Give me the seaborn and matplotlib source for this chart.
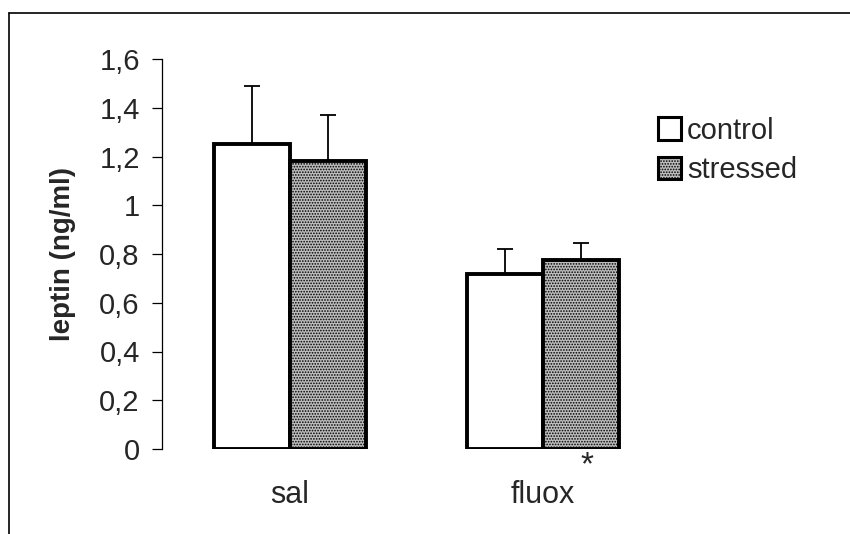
import matplotlib
matplotlib.use("Agg")
import matplotlib.pyplot as plt
from matplotlib.lines import Line2D
import seaborn as sns
import pandas as pd

# ---- data ----
groups = ["sal", "fluox"]
conditions = ["control", "stressed"]
control_vals = [1.25, 0.72]
stressed_vals = [1.18, 0.775]
control_err = [0.24, 0.10]
stressed_err = [0.19, 0.07]
ytick_vals = [0, 0.2, 0.4, 0.6, 0.8, 1.0, 1.2, 1.4, 1.6]
ytick_labels = ["0", "0,2", "0,4", "0,6", "0,8", "1", "1,2", "1,4", "1,6"]
xtick_labels = ["sal", "fluox"]
significance_group = "fluox"
ylabel = "leptin (ng/ml)"

sns.set_style("white")
plt.rcParams["font.family"] = ["Liberation Sans", "DejaVu Sans"]
plt.rcParams["hatch.color"] = "#5e5e5e"
plt.rcParams["hatch.linewidth"] = 0.8

df = pd.DataFrame({
    "group": groups * 2,
    "condition": [conditions[0]] * 2 + [conditions[1]] * 2,
    "value": control_vals + stressed_vals,
    "err": control_err + stressed_err,
})

W, H = 850, 534
fig = plt.figure(figsize=(W / 100, H / 100), dpi=100)
unit = 253.0
xmin, xmax = -0.506, 1.45
left_px, bottom_px, top_px = 162, 449, 59
ax = fig.add_axes([left_px / W, 1 - bottom_px / H, (xmax - xmin) * unit / W, (bottom_px - top_px) / H])

sns.barplot(data=df, x="group", y="value", hue="condition", order=groups,
            hue_order=conditions, palette=["white", "#bdbdbd"], edgecolor="black",
            linewidth=2.8, width=0.6, errorbar=None, legend=False, ax=ax)

bar_conts = list(ax.containers)
for i, cont in enumerate(bar_conts):
    errs = control_err if i == 0 else stressed_err
    vals = control_vals if i == 0 else stressed_vals
    xs = []
    for p in cont.patches:
        xs.append(p.get_x() + p.get_width() / 2)
        if i == 1:
            p.set_hatch("......")
    ax.errorbar(xs, vals, yerr=[[0] * len(errs), errs], fmt="none",
                ecolor="black", elinewidth=1.3, capsize=6, capthick=1.3, zorder=1)

ax.set_xlim(xmin, xmax)
ax.set_ylim(0, 1.6)
ax.set_yticks(ytick_vals)
ax.set_yticklabels(ytick_labels, fontsize=21)
ax.set_xticks(range(len(groups)))
ax.set_xticklabels(xtick_labels, fontsize=22)
ax.tick_params(axis="x", length=0, pad=22)
ax.tick_params(axis="y", left=True, length=7, width=0.9, direction="out", pad=9, color="black")
ax.set_xlabel("")
ax.set_ylabel(ylabel, fontsize=20, fontweight="bold")
ax.yaxis.set_label_coords(-0.174, 0.5)
for s in ["top", "right", "bottom"]:
    ax.spines[s].set_visible(False)
ax.spines["left"].set_color("black")
ax.spines["left"].set_linewidth(0.9)

# significance asterisk next to the fluox label
ax.annotate("*", xy=(groups.index(significance_group), 0), xycoords=("data", "axes fraction"),
            xytext=(27, -1), textcoords="offset points", fontsize=24,
            ha="left", va="top")

handles = [bar_conts[0].patches[0], bar_conts[1].patches[0]]
leg = fig.legend(handles, conditions, loc="upper left",
                 bbox_to_anchor=(643 / W, 1 - 102 / H), frameon=False,
                 fontsize=21, handlelength=0.8, handleheight=0.8,
                 handletextpad=0.2, labelspacing=0.4, borderpad=0)
for h in leg.legend_handles:
    h.set_linewidth(2.2)

fig.add_artist(Line2D([9 / W, 1.0], [1 - 13 / H, 1 - 13 / H], color="black", lw=1.2, transform=fig.transFigure))
fig.add_artist(Line2D([9 / W, 9 / W], [1 - 13 / H, 0.0], color="black", lw=1.2, transform=fig.transFigure))

fig.savefig("out.png", dpi=100)
